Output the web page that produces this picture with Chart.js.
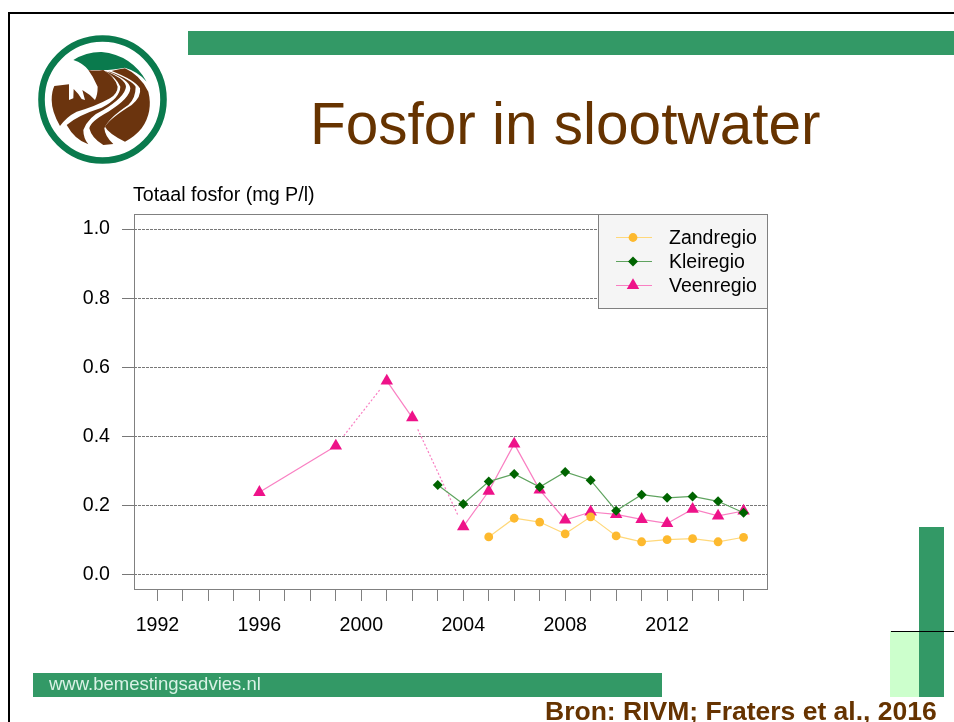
<!DOCTYPE html>
<html><head><meta charset="utf-8">
<script src="https://cdn.jsdelivr.net/npm/chart.js@4"></script>
<style>
html,body{margin:0;padding:0;background:#fff;width:954px;height:722px;overflow:hidden;font-family:"Liberation Sans",Arial,sans-serif}
#c{position:absolute;left:0;top:0}
.abs{position:absolute;white-space:nowrap}
</style></head><body>
<canvas id="c" width="954" height="722"></canvas>
<div class="abs" style="left:7.5px;top:11.5px;width:960px;height:730px;border:2.5px solid #000;box-sizing:border-box"></div>
<div class="abs" style="left:188px;top:31px;width:766px;height:24px;background:#339966"></div>
<div class="abs" style="left:33px;top:673px;width:629px;height:24px;background:#339966"></div>
<div class="abs" style="left:890px;top:631px;width:29px;height:66px;background:#ccffcc"></div>
<div class="abs" style="left:919px;top:527px;width:25px;height:170px;background:#339966"></div>
<div class="abs" style="left:891px;top:631px;width:63px;height:1px;background:#000"></div>
<div class="abs" style="left:310px;top:90px;font-size:58.5px;line-height:67px;color:#663300">Fosfor in slootwater</div>
<div class="abs" style="left:133px;top:183px;font-size:19.7px;line-height:22px;color:#000">Totaal fosfor (mg P/l)</div>
<div class="abs" style="left:49px;top:673px;font-size:18.5px;line-height:22px;color:#d9f2e6">www.bemestingsadvies.nl</div>
<div class="abs" style="left:545px;top:696px;font-size:26.5px;line-height:30px;font-weight:bold;color:#663300">Bron: RIVM; Fraters et al., 2016</div>
<svg class="abs" style="left:0;top:0" width="180" height="180" viewBox="0 0 180 180">
  <circle cx="102.5" cy="99.5" r="61" fill="#fff" stroke="#0a7a4d" stroke-width="6.6"/>
  <g transform="translate(45 45) scale(0.3333)">
    <path fill="#6b340e" d="M28,123 L72,118 L72,165 L85,160 L86,132 Q100,145 110,162 L120,165 L112,135 Q135,148 150,165 Q158,150 158,125 Q145,95 130,75 Q150,78 175,75 Q210,95 218,125 Q218,145 195,160 Q150,185 95,200 Q65,215 45,243 Q20,200 20,165 Q20,140 28,123Z"/>
    <path fill="#6b340e" d="M65,240 Q95,212 170,188 Q225,160 226,125 Q215,98 180,78 Q240,100 243,125 Q240,155 175,195 Q130,215 115,255 Q115,280 130,298 Q90,285 65,240Z"/>
    <path fill="#6b340e" d="M190,80 Q255,105 256,130 Q255,160 190,200 Q135,230 133,250 Q140,280 175,300 L205,297 Q180,275 178,250 Q190,220 250,180 Q272,160 272,125 Q260,105 195,80Z"/>
    <path fill="#6b340e" d="M200,78 Q225,72 240,70 Q285,90 310,140 Q325,200 290,250 Q270,275 240,290 Q190,265 180,245 Q195,220 260,180 Q290,155 285,130 Q270,105 200,78Z"/>
    <path fill="#0a7a4d" d="M85,45 Q125,20 170,21 Q260,30 305,110 Q280,80 240,68 Q200,75 175,75 L130,75 Q115,55 85,45Z"/>
  </g>
</svg>
<script>
const seriesNames = ['Zandregio', 'Kleiregio', 'Veenregio'];
const zandYears = [2005, 2006, 2007, 2008, 2009, 2010, 2011, 2012, 2013, 2014, 2015];
const zandValues = [0.110, 0.164, 0.153, 0.119, 0.168, 0.113, 0.096, 0.102, 0.105, 0.096, 0.109];
const kleiYears = [2003, 2004, 2005, 2006, 2007, 2008, 2009, 2010, 2011, 2012, 2013, 2014, 2015];
const kleiValues = [0.260, 0.205, 0.270, 0.292, 0.254, 0.298, 0.274, 0.186, 0.232, 0.223, 0.227, 0.213, 0.180];
const veenYears = [1996, 1999, 2001, 2002, 2004, 2005, 2006, 2007, 2008, 2009, 2010, 2011, 2012, 2013, 2014, 2015];
const veenValues = [0.239, 0.373, 0.561, 0.455, 0.140, 0.242, 0.379, 0.246, 0.159, 0.182, 0.175, 0.161, 0.149, 0.190, 0.171, 0.185];
const veenDottedFrom = [1999, 2002];
const xTickLabels = [1992, 1996, 2000, 2004, 2008, 2012];
const yTicks = [0, 0.2, 0.4, 0.6, 0.8, 1.0];

const toPts = (xs, ys) => xs.map((x, i) => ({x, y: ys[i]}));
const styles = [
  {line:'#ffd87a', fill:'#fdb92e', shape:'circle', r:4.4},
  {line:'#5fa35f', fill:'#006400', shape:'rectRot', r:5},
  {line:'#f97fc2', fill:'#ee1289', shape:'triangle', r:7.2}
];
const values = [toPts(zandYears, zandValues), toPts(kleiYears, kleiValues), toPts(veenYears, veenValues)];

function dottedPattern(ctx) {
  if (!veenDottedFrom.includes(ctx.p0.parsed.x)) return undefined;
  const len = Math.hypot(ctx.p1.x - ctx.p0.x, ctx.p1.y - ctx.p0.y);
  const pat = [0, 13];
  for (let d = 13; d < len - 13; d += 4) pat.push(2, 2);
  pat.push(0, 200);
  return pat;
}

const frame = {
  id: 'frame',
  afterDraw(chart) {
    const {ctx, chartArea: a} = chart;
    ctx.save();
    ctx.strokeStyle = '#808080'; ctx.lineWidth = 1;
    ctx.strokeRect(a.left + .5, a.top + .5, a.width, a.height);
    // legend
    const L = 598, T = 214, W = 169, H = 94;
    ctx.fillStyle = '#f5f5f5'; ctx.fillRect(L, T, W, H);
    ctx.strokeRect(L + .5, T + .5, W, H);
    const rows = [237, 261, 285];
    seriesNames.forEach((n, i) => {
      const s = styles[i], y = rows[i];
      ctx.strokeStyle = s.line; ctx.lineWidth = 1.2;
      ctx.beginPath(); ctx.moveTo(616, y + .5); ctx.lineTo(652, y + .5); ctx.stroke();
      ctx.fillStyle = s.fill; ctx.strokeStyle = s.fill;
      Chart.helpers.drawPoint(ctx, {pointStyle: s.shape, radius: s.r, borderWidth: 0, rotation: 0}, 633, y + .5);
      ctx.fillStyle = '#000'; ctx.font = '19.5px "Liberation Sans"';
      ctx.textBaseline = 'middle'; ctx.textAlign = 'left';
      ctx.fillText(n, 669, y + 1.5);
    });
    ctx.restore();
  }
};

new Chart(document.getElementById('c'), {
  type: 'line',
  data: {
    datasets: seriesNames.map((label, i) => ({
      label, data: values[i],
      borderColor: styles[i].line, borderWidth: 1.2,
      backgroundColor: styles[i].fill,
      pointBackgroundColor: styles[i].fill, pointBorderWidth: 0,
      pointStyle: styles[i].shape, pointRadius: styles[i].r,
      tension: 0,
      segment: i === 2 ? {borderDash: dottedPattern} : undefined
    }))
  },
  options: {
    responsive: false, animation: false,
    layout: {padding: {left: 0, top: 214, right: 187, bottom: 0}},
    plugins: {legend: {display: false}, title: {display: false}, tooltip: {enabled: false}},
    scales: {
      x: {
        type: 'linear', min: 1991.08, max: 2015.92,
        afterFit: s => { s.height = 133; },
        afterBuildTicks: s => { s.ticks = s.ticks.filter(t => Number.isInteger(t.value) && t.value <= 2015); },
        grid: {drawOnChartArea: false, drawTicks: true, tickLength: 12, color: '#808080', tickColor: '#808080'},
        border: {display: false},
        ticks: {
          stepSize: 1, includeBounds: false, autoSkip: false, maxRotation: 0, padding: 13,
          color: '#000', font: {family: '"Liberation Sans"', size: 19.6},
          callback: v => xTickLabels.includes(v) ? String(v) : ''
        }
      },
      y: {
        type: 'linear', min: -0.0405, max: 1.0434,
        afterFit: s => { s.width = 134; },
        afterBuildTicks: s => { s.ticks = yTicks.map(value => ({value})); },
        grid: {color: '#777', lineWidth: 1, tickLength: 12, borderDash: [3, 1], tickBorderDash: [], tickColor: '#777', drawTicks: true},
        border: {display: false, dash: [3, 1]},
        ticks: {
          padding: 12, color: '#000', font: {family: '"Liberation Sans"', size: 19.6},
          callback: v => Number(v).toFixed(1)
        }
      }
    }
  },
  plugins: [frame]
});
</script>
</body></html>
